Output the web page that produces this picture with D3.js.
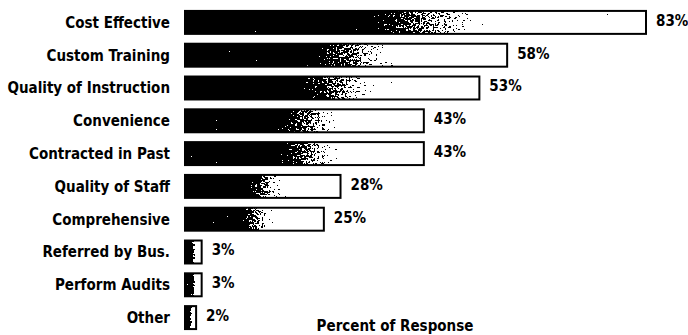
<!DOCTYPE html>
<html>
<head>
<meta charset="utf-8">
<script src="https://cdn.jsdelivr.net/npm/d3@7"></script>
<style>
  html, body { margin: 0; padding: 0; background: #fff; }
  svg { display: block; }
  .lbl { font-family: "Liberation Sans Narrow", "DejaVu Sans Condensed", "Liberation Sans", sans-serif; font-weight: bold; fill: #000; }
</style>
</head>
<body>
<script>
// Reasons for choosing a provider, percent of respondents
const categories = [
  "Cost Effective", "Custom Training", "Quality of Instruction", "Convenience",
  "Contracted in Past", "Quality of Staff", "Comprehensive", "Referred by Bus.",
  "Perform Audits", "Other"
];
const values = [83, 58, 53, 43, 43, 28, 25, 3, 3, 2];
const axisTitle = "Percent of Response";

const W = 688, H = 335;
const svg = d3.select("body").append("svg").attr("width", W).attr("height", H);

const x = d3.scaleLinear().domain([0, 83]).range([185, 646]);
const y = d3.scaleBand().domain(categories).range([6, 334]).paddingInner(0.3).paddingOuter(0.15);

const defs = svg.append("defs");
// black-to-white fade along each bar
const grad = defs.append("linearGradient").attr("id", "fade")
  .attr("x1", 0).attr("x2", 1).attr("y1", 0).attr("y2", 0);
grad.append("stop").attr("offset", 0).attr("stop-color", "#000");
grad.append("stop").attr("offset", 0.36).attr("stop-color", "#000");
grad.append("stop").attr("offset", 0.68).attr("stop-color", "#fff");
grad.append("stop").attr("offset", 1).attr("stop-color", "#fff");

// halftone-like speckle on the fade
const f = defs.append("filter").attr("id", "dither")
  .attr("x", 0).attr("y", 0).attr("width", 1).attr("height", 1)
  .attr("color-interpolation-filters", "sRGB");
f.append("feTurbulence").attr("type", "fractalNoise").attr("baseFrequency", 0.45)
  .attr("numOctaves", 3).attr("seed", 11).attr("result", "noise");
f.append("feColorMatrix").attr("in", "noise").attr("type", "matrix")
  .attr("values", "1 0 0 0 0  1 0 0 0 0  1 0 0 0 0  0 0 0 0 1").attr("result", "gray");
f.append("feComposite").attr("in", "SourceGraphic").attr("in2", "gray")
  .attr("operator", "arithmetic").attr("k1", 0).attr("k2", 1).attr("k3", 1.3).attr("k4", -0.65)
  .attr("result", "mix");
const ct = f.append("feComponentTransfer").attr("in", "mix").attr("result", "bw");
["feFuncR", "feFuncG", "feFuncB"].forEach(n => ct.append(n).attr("type", "discrete").attr("tableValues", "0 1"));
f.append("feComposite").attr("in", "bw").attr("in2", "SourceAlpha").attr("operator", "in");

const rows = svg.append("g").selectAll("g").data(categories).join("g");

rows.append("rect")
  .attr("x", x(0))
  .attr("y", d => y(d))
  .attr("width", (d, i) => x(values[i]) - x(0))
  .attr("height", y.bandwidth())
  .attr("fill", "url(#fade)")
  .attr("filter", "url(#dither)");

rows.append("rect")
  .attr("x", x(0))
  .attr("y", d => y(d))
  .attr("width", (d, i) => x(values[i]) - x(0))
  .attr("height", y.bandwidth())
  .attr("fill", "none")
  .attr("stroke", "#000")
  .attr("stroke-width", 2);

rows.append("text").attr("class", "lbl")
  .attr("x", 170)
  .attr("y", d => y(d) + y.bandwidth() / 2)
  .attr("dy", "0.36em")
  .attr("text-anchor", "end")
  .attr("font-size", 15)
  .text(d => d);

rows.append("text").attr("class", "lbl")
  .attr("x", (d, i) => x(values[i]) + 10)
  .attr("y", d => y(d) + y.bandwidth() / 2 - 2)
  .attr("dy", "0.36em")
  .attr("font-size", 15)
  .text((d, i) => values[i] + "%");

svg.append("text").attr("class", "lbl")
  .attr("x", 395).attr("y", 331)
  .attr("text-anchor", "middle")
  .attr("font-size", 15)
  .text(axisTitle);
</script>
</body>
</html>
